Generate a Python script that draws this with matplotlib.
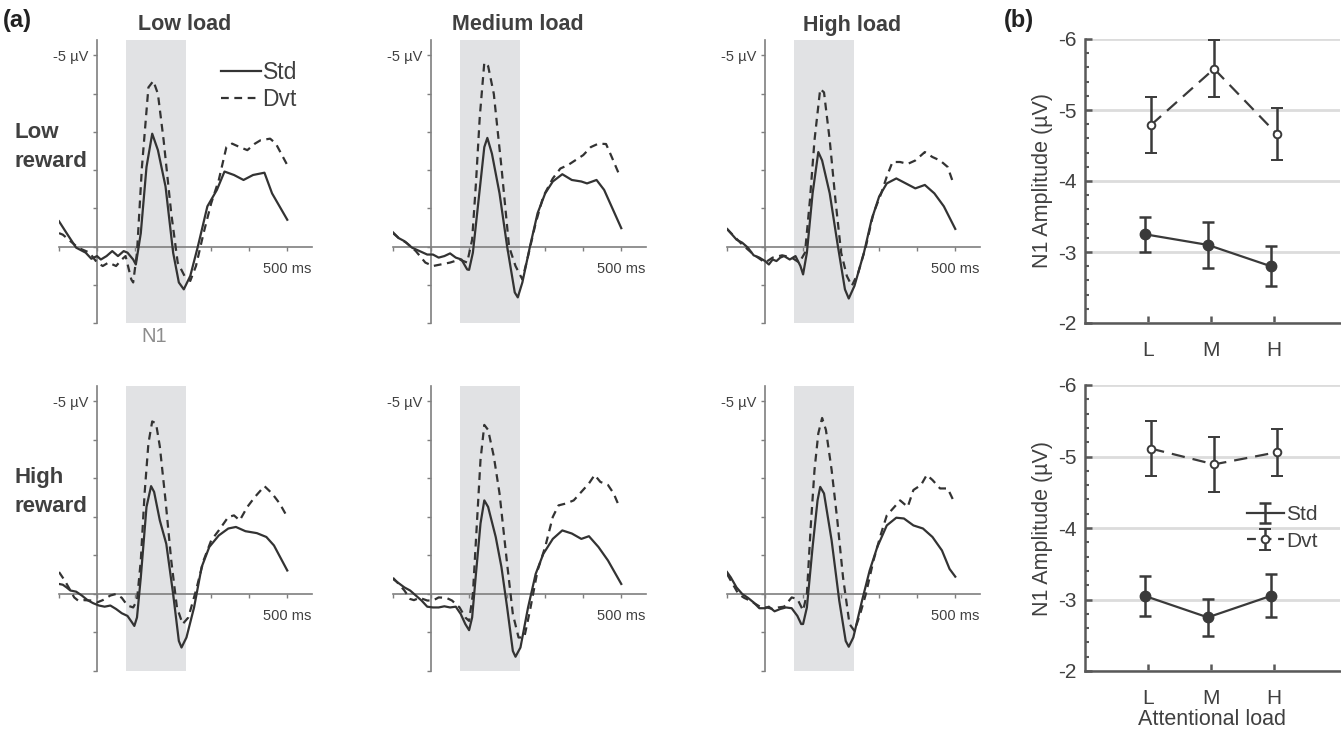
import matplotlib
matplotlib.use("Agg")
import matplotlib.pyplot as plt
from matplotlib.ticker import MultipleLocator

plt.rcParams['font.family'] = ['Liberation Sans', 'DejaVu Sans']
plt.rcParams['axes.unicode_minus'] = False

# ---- ERP waveforms (ms, uV) ----
# low reward / low load
lr_ll_std_t = [-100, -80, -55, -30, -15, 0, 10, 25, 40, 55, 70, 80, 95, 102, 115, 130, 145, 160, 180, 200, 215, 228, 245, 265, 290, 315, 335, 360, 385, 410, 440, 460, 500]
lr_ll_std_v = [-0.66, -0.35, 0.03, 0.16, 0.32, 0.25, 0.34, 0.25, 0.12, 0.25, 0.12, 0.16, 0.34, 0.47, -0.35, -2.08, -2.95, -2.52, -1.57, 0.16, 0.94, 1.12, 0.77, 0.0, -1.05, -1.48, -1.96, -1.87, -1.74, -1.87, -1.93, -1.39, -0.70]
lr_ll_dvt_t = [-100, -90, -70, -50, -20, 0, 15, 30, 50, 65, 75, 90, 95, 105, 118, 135, 148, 160, 175, 195, 212, 230, 245, 260, 280, 300, 320, 340, 355, 375, 395, 415, 430, 455, 470, 500]
lr_ll_dvt_v = [-0.35, -0.31, -0.14, 0.03, 0.16, 0.42, 0.51, 0.42, 0.51, 0.34, 0.25, 0.86, 0.94, 0.16, -2.08, -4.16, -4.33, -3.99, -2.78, -0.87, 0.42, 0.77, 0.90, 0.51, -0.35, -1.13, -1.74, -2.60, -2.69, -2.60, -2.52, -2.69, -2.78, -2.82, -2.69, -2.13]
# low reward / medium load
lr_ml_std_t = [-100, -85, -70, -50, -30, -10, 5, 20, 35, 50, 65, 80, 95, 100, 110, 125, 140, 148, 160, 180, 200, 220, 228, 240, 260, 280, 300, 320, 345, 370, 395, 410, 435, 455, 500]
lr_ml_std_v = [-0.37, -0.22, -0.14, 0.03, 0.12, 0.21, 0.21, 0.29, 0.25, 0.18, 0.29, 0.34, 0.60, 0.61, 0.16, -1.22, -2.60, -2.84, -2.43, -1.39, 0.0, 1.20, 1.33, 0.94, 0.0, -0.87, -1.39, -1.70, -1.89, -1.74, -1.70, -1.65, -1.74, -1.48, -0.48]
lr_ml_dvt_t = [-100, -85, -65, -40, -15, 5, 25, 50, 75, 95, 108, 118, 128, 140, 150, 165, 185, 205, 222, 240, 255, 275, 295, 320, 340, 360, 380, 400, 420, 440, 460, 475, 495]
lr_ml_dvt_v = [-0.35, -0.22, -0.10, 0.12, 0.42, 0.51, 0.47, 0.42, 0.34, 0.42, -0.18, -1.65, -3.38, -4.81, -4.72, -3.99, -2.08, 0.0, 0.51, 0.86, 0.25, -0.61, -1.31, -1.78, -2.04, -2.13, -2.26, -2.39, -2.60, -2.69, -2.68, -2.34, -1.87]
# low reward / high load
lr_hl_std_t = [-100, -90, -75, -60, -45, -30, -15, 0, 10, 20, 30, 40, 50, 65, 80, 93, 100, 110, 125, 140, 150, 170, 190, 210, 220, 235, 260, 280, 300, 320, 345, 370, 395, 420, 445, 470, 500]
lr_hl_std_v = [-0.46, -0.35, -0.18, -0.10, 0.03, 0.23, 0.29, 0.38, 0.47, 0.34, 0.38, 0.29, 0.25, 0.34, 0.25, 0.51, 0.73, 0.16, -1.39, -2.47, -2.25, -1.39, -0.10, 1.12, 1.36, 1.03, 0.16, -0.70, -1.31, -1.65, -1.78, -1.65, -1.52, -1.61, -1.39, -1.05, -0.46]
lr_hl_dvt_t = [-100, -60, -30, 0, 20, 45, 70, 90, 105, 118, 130, 145, 155, 170, 185, 200, 215, 228, 245, 265, 285, 305, 320, 335, 355, 375, 395, 420, 440, 460, 480, 495]
lr_hl_dvt_v = [-0.46, -0.05, 0.21, 0.42, 0.29, 0.23, 0.29, 0.42, 0.16, -1.22, -2.78, -4.12, -4.03, -2.78, -1.22, 0.16, 0.77, 1.03, 0.68, 0.0, -0.87, -1.38, -1.83, -2.21, -2.21, -2.16, -2.25, -2.47, -2.34, -2.25, -2.08, -1.65]
# high reward / low load
hr_ll_std_t = [-100, -90, -80, -70, -55, -40, -25, -10, 5, 20, 35, 50, 65, 80, 92, 98, 105, 115, 130, 142, 150, 165, 182, 200, 215, 222, 235, 255, 275, 295, 320, 345, 365, 390, 420, 445, 465, 500]
hr_ll_std_v = [-0.26, -0.24, -0.17, -0.09, -0.06, 0.04, 0.16, 0.24, 0.30, 0.33, 0.30, 0.39, 0.50, 0.57, 0.74, 0.83, 0.61, -0.43, -2.26, -2.80, -2.65, -1.91, -1.30, 0.0, 1.22, 1.39, 1.13, 0.35, -0.70, -1.22, -1.52, -1.70, -1.74, -1.63, -1.58, -1.48, -1.26, -0.61]
hr_ll_dvt_t = [-100, -85, -70, -60, -50, -35, -15, 0, 15, 35, 50, 65, 80, 95, 105, 115, 125, 135, 145, 155, 165, 180, 195, 210, 225, 240, 260, 280, 300, 320, 345, 360, 375, 395, 415, 440, 460, 480, 500]
hr_ll_dvt_v = [-0.57, -0.35, -0.09, 0.09, 0.17, 0.16, 0.17, 0.22, 0.16, 0.04, 0.0, 0.10, 0.30, 0.35, 0.17, -0.87, -2.61, -3.91, -4.48, -4.43, -3.83, -2.43, -0.87, 0.35, 0.78, 0.61, -0.09, -0.87, -1.39, -1.65, -2.00, -2.04, -1.91, -2.26, -2.52, -2.80, -2.61, -2.35, -2.00]
# high reward / medium load
hr_ml_std_t = [-100, -85, -70, -55, -40, -25, -10, 5, 20, 35, 50, 65, 78, 90, 100, 108, 118, 130, 140, 150, 170, 185, 200, 215, 222, 235, 255, 275, 295, 320, 345, 370, 395, 415, 440, 465, 500]
hr_ml_std_v = [-0.39, -0.28, -0.17, -0.09, 0.04, 0.17, 0.33, 0.35, 0.35, 0.32, 0.35, 0.33, 0.52, 0.78, 0.94, 0.61, -0.52, -1.83, -2.43, -2.26, -1.48, -0.70, 0.35, 1.48, 1.63, 1.39, 0.35, -0.52, -1.04, -1.43, -1.65, -1.57, -1.43, -1.50, -1.22, -0.87, -0.26]
hr_ml_dvt_t = [-100, -85, -70, -55, -45, -30, -10, 5, 20, 40, 55, 75, 90, 100, 110, 120, 130, 140, 150, 165, 180, 200, 215, 230, 245, 260, 280, 300, 320, 335, 355, 375, 395, 415, 430, 445, 465, 480, 495]
hr_ml_dvt_v = [-0.42, -0.26, -0.09, 0.13, 0.16, 0.10, 0.17, 0.17, 0.09, 0.10, 0.17, 0.35, 0.61, 0.70, 0.0, -1.74, -3.48, -4.39, -4.26, -3.57, -2.61, -0.78, 0.52, 1.13, 1.13, 0.43, -0.61, -1.22, -2.00, -2.30, -2.35, -2.43, -2.65, -2.87, -3.09, -2.91, -2.83, -2.61, -2.26]
# high reward / high load
hr_hl_std_t = [-100, -90, -75, -60, -45, -30, -15, 0, 10, 25, 40, 55, 70, 85, 95, 100, 110, 125, 138, 145, 155, 175, 195, 212, 220, 232, 255, 275, 295, 320, 345, 365, 390, 415, 440, 465, 485, 500]
hr_hl_std_v = [-0.57, -0.43, -0.17, 0.0, 0.10, 0.22, 0.37, 0.37, 0.33, 0.45, 0.39, 0.35, 0.37, 0.57, 0.78, 0.78, 0.35, -1.22, -2.43, -2.78, -2.61, -1.39, 0.17, 1.22, 1.37, 1.13, 0.17, -0.61, -1.22, -1.78, -1.98, -1.96, -1.78, -1.70, -1.48, -1.13, -0.65, -0.45]
hr_hl_dvt_t = [-100, -85, -70, -55, -40, -25, -10, 5, 20, 35, 50, 70, 85, 100, 110, 120, 130, 140, 150, 160, 175, 190, 205, 222, 235, 250, 265, 285, 305, 320, 340, 355, 375, 390, 410, 425, 440, 460, 480, 495]
hr_hl_dvt_v = [-0.52, -0.26, 0.0, 0.10, 0.17, 0.26, 0.35, 0.35, 0.39, 0.35, 0.33, 0.09, 0.13, 0.43, 0.0, -1.74, -3.22, -4.17, -4.57, -4.26, -3.22, -1.91, -0.43, 0.78, 0.96, 0.52, 0.0, -0.87, -1.57, -2.04, -2.26, -2.43, -2.26, -2.70, -2.83, -3.09, -2.96, -2.74, -2.74, -2.43]

col_titles = ['Low load', 'Medium load', 'High load']
row_titles = ['Low\nreward', 'High\nreward']

# ---- N1 amplitudes (b) ----
load_labels = ['L', 'M', 'H']
lowrew_std = [-3.25, -3.10, -2.80]
lowrew_std_err = [0.25, 0.32, 0.28]
lowrew_dvt = [-4.79, -5.58, -4.66]
lowrew_dvt_err = [0.39, 0.40, 0.37]
highrew_std = [-3.05, -2.75, -3.05]
highrew_std_err = [0.28, 0.26, 0.30]
highrew_dvt = [-5.11, -4.89, -5.06]
highrew_dvt_err = [0.38, 0.38, 0.33]

W, H = 1341, 735
INK = '#404040'
AXC = '#7f7f7f'
EB = '#3a3a3a'
fig = plt.figure(figsize=(W / 100, H / 100), dpi=100)


def px_axes(x0, y0, x1, y1):
    return fig.add_axes([x0 / W, 1 - y1 / H, (x1 - x0) / W, (y1 - y0) / H])


waves = [
    [(lr_ll_std_t, lr_ll_std_v, lr_ll_dvt_t, lr_ll_dvt_v),
     (lr_ml_std_t, lr_ml_std_v, lr_ml_dvt_t, lr_ml_dvt_v),
     (lr_hl_std_t, lr_hl_std_v, lr_hl_dvt_t, lr_hl_dvt_v)],
    [(hr_ll_std_t, hr_ll_std_v, hr_ll_dvt_t, hr_ll_dvt_v),
     (hr_ml_std_t, hr_ml_std_v, hr_ml_dvt_t, hr_ml_dvt_v),
     (hr_hl_std_t, hr_hl_std_v, hr_hl_dvt_t, hr_hl_dvt_v)],
]
col_x = [59, 393, 727]
row_y = [(40, 323), (386, 671)]

for r in range(2):
    for c in range(3):
        ax = px_axes(col_x[c], row_y[r][0], col_x[c] + 253, row_y[r][1])
        st, sv, dt, dv = waves[r][c]
        ax.axvspan(75, 235, color='#e1e2e4', lw=0, zorder=0)
        ax.plot(st, sv, color='#333333', lw=1.6, label='Std', zorder=3)
        ax.plot(dt, dv, color='#333333', lw=1.6, ls=(0, (3.5, 2.5)), label='Dvt', zorder=3)
        ax.set_xlim(-100, 565)
        ax.set_ylim(2.0, -5.4)
        for s in ['top', 'right']:
            ax.spines[s].set_visible(False)
        ax.spines['left'].set_position(('data', 0))
        ax.spines['bottom'].set_position(('data', 0))
        for s in ['left', 'bottom']:
            ax.spines[s].set_color(AXC)
            ax.spines[s].set_linewidth(1.2)
        ax.set_facecolor('none')
        ax.set_xticks(range(-100, 501, 100))
        ax.set_xticklabels([''] * 6 + ['500 ms'])
        ax.set_yticks(range(-5, 3))
        ax.set_yticklabels(['-5 µV'] + [''] * 7)
        ax.tick_params(axis='x', direction='out', length=3, width=1, color=AXC,
                       labelsize=10.5, labelcolor=INK, pad=8)
        ax.tick_params(axis='y', direction='out', length=3, width=1, color=AXC,
                       labelsize=10.5, labelcolor=INK, pad=3)
        if r == 0 and c == 0:
            ax.text(150, 2.1, 'N1', ha='center', va='top', fontsize=14.5, color='#8c8c8c')
            ax.legend(loc='upper left', bbox_to_anchor=(0.56, 1.0), frameon=False,
                      fontsize=16.5, handlelength=1.75, handletextpad=0.05,
                      labelspacing=0.2, labelcolor=INK)

for c, title in enumerate(col_titles):
    fig.text([185, 518, 852][c] / W, 1 - 25 / H, title, ha='center', va='center',
             fontsize=15.5, fontweight='bold', color=INK)
for r, lab in enumerate(row_titles):
    fig.text(15 / W, 1 - [147, 492][r] / H, lab, ha='left', va='center',
             fontsize=16, fontweight='bold', color=INK, linespacing=1.45)
fig.text(3 / W, 1 - 21 / H, '(a)', ha='left', va='center', fontsize=17,
         fontweight='bold', color='#222222')
fig.text(1004 / W, 1 - 21 / H, '(b)', ha='left', va='center', fontsize=17,
         fontweight='bold', color='#222222')

# ---- panel (b) ----
xpos = [1, 2, 3]
sets = [(lowrew_std, lowrew_std_err, lowrew_dvt, lowrew_dvt_err),
        (highrew_std, highrew_std_err, highrew_dvt, highrew_dvt_err)]
eb_kw = dict(color=EB, lw=1.6, capsize=4, elinewidth=1.8, capthick=1.8)
for r in range(2):
    ax = px_axes(1085, row_y[r][0] - 1, 1340, row_y[r][1])
    s, se, d, de = sets[r]
    ax.errorbar([x - 0.05 for x in xpos], s, yerr=se, marker='o', ms=7.5, zorder=3, **eb_kw)
    ax.errorbar([x + 0.05 for x in xpos], d, yerr=de, ls=(0, (6, 3.6)), marker='o',
                ms=5.5, mfc='white', mew=1.4, zorder=3, **eb_kw)
    if r == 1:
        # legend-only entries, drawn outside the visible x range
        ax.errorbar([-1], [-4], yerr=[0.3], label='Std', **eb_kw)
        ax.errorbar([-1], [-4], yerr=[0.3], ls=(0, (4, 3)), marker='o', ms=5.5,
                    mfc='white', mew=1.4, label='Dvt', **eb_kw)
    ax.set_xlim(0, 4.05)
    ax.set_ylim(-2, -6)
    ax.set_yticks([-6, -5, -4, -3, -2])
    ax.yaxis.set_minor_locator(MultipleLocator(0.2))
    ax.set_xticks(xpos)
    ax.set_xticklabels(load_labels)
    ax.grid(axis='y', color='#dcdcdc', lw=2, zorder=0)
    ax.set_axisbelow(True)
    for sp in ['top', 'right']:
        ax.spines[sp].set_visible(False)
    for sp in ['left', 'bottom']:
        ax.spines[sp].set_color('#595959')
        ax.spines[sp].set_linewidth(1.8)
    ax.tick_params(axis='both', which='major', direction='in', length=5, width=1.8,
                   color='#595959', labelsize=15, labelcolor=INK, pad=6)
    ax.tick_params(axis='x', pad=13)
    ax.tick_params(axis='y', which='minor', direction='in', length=3, width=1.5, color='#595959')
    ax.set_ylabel('N1 Amplitude (µV)', fontsize=15.5, color=INK, labelpad=4)
    if r == 1:
        ax.set_xlabel('Attentional load', fontsize=15.5, color=INK, labelpad=1)
        ax.legend(loc='center left', bbox_to_anchor=(0.56, 0.5), frameon=False,
                  fontsize=15, handlelength=1.8, handletextpad=0.1,
                  labelspacing=0.35, labelcolor=INK)

fig.savefig('out.png', dpi=100)
